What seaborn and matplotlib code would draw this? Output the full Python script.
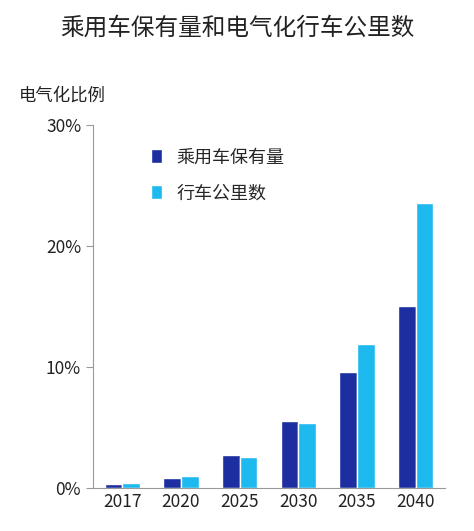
import matplotlib
matplotlib.use("Agg")
import matplotlib.pyplot as plt
import seaborn as sns
import pandas as pd

years = ["2017", "2020", "2025", "2030", "2035", "2040"]
stock = [0.3, 0.8, 2.7, 5.5, 9.6, 15.0]
mileage = [0.4, 1.0, 2.6, 5.4, 11.9, 23.5]
series_names = ["乘用车保有量", "行车公里数"]

sns.set_style("white")
plt.rcParams['font.family'] = ['Noto Sans CJK SC', 'DejaVu Sans']

df = pd.DataFrame({"year": years * 2, "value": stock + mileage,
                   "series": [series_names[0]] * 6 + [series_names[1]] * 6})

fig = plt.figure(figsize=(4.74, 5.31), dpi=100)
ax = fig.add_axes([0.196, 0.081, 0.743, 0.684])
sns.barplot(data=df, x="year", y="value", hue="series", ax=ax,
            palette=["#1c2ea0", "#1eb9ef"], width=0.6, gap=0, saturation=1)
ax.set_ylim(0, 30)
ax.set_yticks([0, 10, 20, 30])
ax.set_yticklabels(["0%", "10%", "20%", "30%"])
ax.set_xlabel("")
ax.set_ylabel("")
ax.tick_params(axis="both", labelsize=12.5, colors="#222222")
ax.tick_params(axis="y", direction="out", length=5, width=0.8, left=True, color="#999999")
ax.tick_params(axis="x", length=0)
for s in ["top", "right"]:
    ax.spines[s].set_visible(False)
for s in ["left", "bottom"]:
    ax.spines[s].set_color("#999999")
    ax.spines[s].set_linewidth(0.8)
ax.legend(loc="upper left", bbox_to_anchor=(0.12, 0.98), frameon=False,
          fontsize=13, handlelength=0.6, handleheight=0.8, labelspacing=1.0)
fig.text(0.5, 0.935, "乘用车保有量和电气化行车公里数", ha="center", fontsize=17, color="#222222")
fig.text(0.04, 0.81, "电气化比例", ha="left", fontsize=12.5, color="#222222")
fig.savefig("out.png", dpi=100)
